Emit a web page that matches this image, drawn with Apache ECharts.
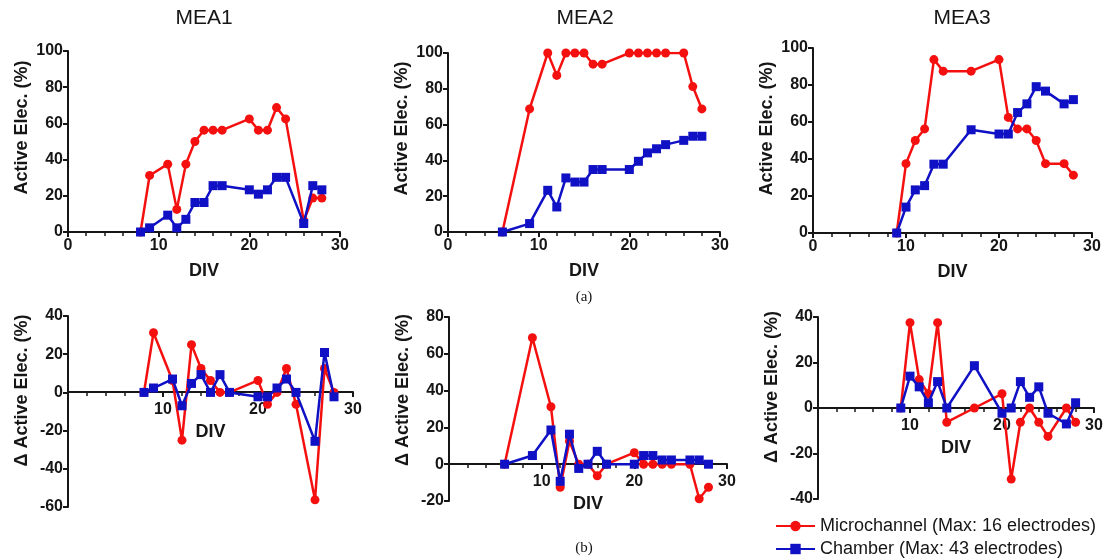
<!DOCTYPE html>
<html>
<head>
<meta charset="utf-8">
<script src="https://cdn.jsdelivr.net/npm/echarts@6/dist/echarts.min.js"></script>
<style>
  html, body { margin: 0; padding: 0; background: #fff; }
  #chart { width: 1113px; height: 559px; }
</style>
</head>
<body>
<div id="chart"></div>
<script>
// DIV (days in vitro) for each MEA
var divMea1 = [8, 9, 11, 12, 13, 14, 15, 16, 17, 20, 21, 22, 23, 24, 26, 27, 28];
var divMea2 = [6, 9, 11, 12, 13, 14, 15, 16, 17, 20, 21, 22, 23, 24, 26, 27, 28];
var divMea3 = [9, 10, 11, 12, 13, 14, 17, 20, 21, 22, 23, 24, 25, 27, 28];

// active electrodes (%)
var microMea1 = [0, 31.25, 37.5, 12.5, 37.5, 50, 56.25, 56.25, 56.25, 62.5, 56.25, 56.25, 68.75, 62.5, 6.25, 18.75, 18.75];
var chamberMea1 = [0, 2.3, 9.3, 2.3, 7.0, 16.3, 16.3, 25.6, 25.6, 23.3, 20.9, 23.3, 30.2, 30.2, 4.7, 25.6, 23.3];
var microMea2 = [0, 68.75, 100, 87.5, 100, 100, 100, 93.75, 93.75, 100, 100, 100, 100, 100, 100, 81.25, 68.75];
var chamberMea2 = [0, 4.7, 23.3, 14.0, 30.2, 27.9, 27.9, 34.9, 34.9, 34.9, 39.5, 44.2, 46.5, 48.8, 51.2, 53.5, 53.5];
var microMea3 = [0, 37.5, 50, 56.25, 93.75, 87.5, 87.5, 93.75, 62.5, 56.25, 56.25, 50, 37.5, 37.5, 31.25];
var chamberMea3 = [0, 14.0, 23.3, 25.6, 37.2, 37.2, 55.8, 53.5, 53.5, 65.1, 69.8, 79.1, 76.7, 69.8, 72.1];

// change of active electrodes (%)
var microDeltaMea1 = [0, 31.25, 6.25, -25, 25, 12.5, 6.25, 0, 0, 6.25, -6.25, 0, 12.5, -6.25, -56.25, 12.5, 0];
var chamberDeltaMea1 = [0, 2.3, 7.0, -7.0, 4.7, 9.3, 0, 9.3, 0, -2.3, -2.3, 2.3, 7.0, 0, -25.6, 20.9, -2.3];
var microDeltaMea2 = [0, 68.75, 31.25, -12.5, 12.5, 0, 0, -6.25, 0, 6.25, 0, 0, 0, 0, 0, -18.75, -12.5];
var chamberDeltaMea2 = [0, 4.7, 18.6, -9.3, 16.3, -2.3, 0, 7.0, 0, 0, 4.7, 4.7, 2.3, 2.3, 2.3, 2.3, 0];
var microDeltaMea3 = [0, 37.5, 12.5, 6.25, 37.5, -6.25, 0, 6.25, -31.25, -6.25, 0, -6.25, -12.5, 0, -6.25];
var chamberDeltaMea3 = [0, 14.0, 9.3, 2.3, 11.6, 0, 18.6, -2.3, 0, 11.6, 4.7, 9.3, -2.3, -7.0, 2.3];

var panelTitles = ["MEA1", "MEA2", "MEA3"];
var microName = "Microchannel (Max: 16 electrodes)";
var chamberName = "Chamber (Max: 43 electrodes)";

var RED = "#f51010";
var BLUE = "#1010c4";
var INK = "#161616";
var FONT = "Liberation Sans";

function pairs(xs, ys) {
    return xs.map(function (x, i) { return [x, ys[i]]; });
}

// grid boxes: top row then bottom row
var gridBoxes = [
    { left: 68, top: 51, width: 272, height: 181 },
    { left: 448, top: 53, width: 272, height: 179 },
    { left: 813, top: 48, width: 279, height: 185 },
    { left: 68, top: 316, width: 285, height: 191 },
    { left: 449, top: 317, width: 278, height: 184 },
    { left: 818, top: 317, width: 276, height: 182 }
];
var yRanges = [[0, 100], [0, 100], [0, 100], [-60, 40], [-20, 80], [-40, 40]];
var titleX = [204, 585, 962];
// y axis titles sit a little above the middle of the axis
var yNameShift = [28, 28, 24, 42, 38, 42];

var panels = [
    { div: divMea1, micro: microMea1, chamber: chamberMea1 },
    { div: divMea2, micro: microMea2, chamber: chamberMea2 },
    { div: divMea3, micro: microMea3, chamber: chamberMea3 },
    { div: divMea1, micro: microDeltaMea1, chamber: chamberDeltaMea1 },
    { div: divMea2, micro: microDeltaMea2, chamber: chamberDeltaMea2 },
    { div: divMea3, micro: microDeltaMea3, chamber: chamberDeltaMea3 }
];

var axisLine = { lineStyle: { color: INK, width: 2 } };
var axisTick = { length: 5, lineStyle: { color: INK, width: 2 } };
var labelStyle = { color: INK, fontWeight: "bold", fontSize: 16, fontFamily: FONT };
var nameStyle = { color: INK, fontWeight: "bold", fontSize: 18, fontFamily: FONT };

var grids = [], xAxes = [], yAxes = [], series = [];

panels.forEach(function (p, i) {
    var isDelta = i >= 3;
    var box = gridBoxes[i];
    var r = yRanges[i];
    // x axis sits on y = 0: lift it up from the grid bottom
    var lift = Math.round(box.height * (0 - r[0]) / (r[1] - r[0]));
    grids.push(box);
    xAxes.push({
        type: "value", gridIndex: i, min: 0, max: 30, interval: 10,
        position: "bottom", offset: -lift,
        name: "DIV", nameLocation: "middle", nameGap: isDelta ? 31 : 30,
        nameTextStyle: nameStyle,
        axisLine: Object.assign({ onZero: false }, axisLine), axisTick: axisTick,
        minorTick: { show: true, splitNumber: 5, length: 4, lineStyle: { color: INK, width: 1.5 } },
        axisLabel: Object.assign({ margin: isDelta ? 10 : 6, showMinLabel: !isDelta }, labelStyle),
        splitLine: { show: false }
    });
    yAxes.push({
        type: "value", gridIndex: i, min: r[0], max: r[1], interval: 20,
        name: (isDelta ? "\u0394 " : "") + "Active Elec. (%)",
        nameLocation: "middle", nameGap: 37,
        nameTextStyle: Object.assign({ padding: [0, 0, 0, yNameShift[i]] }, nameStyle),
        axisLine: Object.assign({ onZero: false }, axisLine), axisTick: axisTick,
        axisLabel: Object.assign({ margin: 5 }, labelStyle),
        splitLine: { show: false }
    });
    series.push({
        name: microName, type: "line", xAxisIndex: i, yAxisIndex: i,
        data: pairs(p.div, p.micro),
        symbol: "circle", symbolSize: 9,
        lineStyle: { color: RED, width: 2.5 }, itemStyle: { color: RED },
        z: 2
    });
    series.push({
        name: chamberName, type: "line", xAxisIndex: i, yAxisIndex: i,
        data: pairs(p.div, p.chamber),
        symbol: "rect", symbolSize: 9,
        lineStyle: { color: BLUE, width: 2.5 }, itemStyle: { color: BLUE },
        z: 3
    });
});

var graphics = panelTitles.map(function (t, i) {
    return {
        type: "text", x: titleX[i], y: 18,
        style: { text: t, fontSize: 21, fontFamily: FONT, fill: INK, align: "center", verticalAlign: "middle" }
    };
});
graphics.push({
    type: "text", x: 584, y: 297,
    style: { text: "(a)", fontSize: 15, fontFamily: "Liberation Serif", fill: INK, align: "center", verticalAlign: "middle" }
});
graphics.push({
    type: "text", x: 584, y: 548,
    style: { text: "(b)", fontSize: 15, fontFamily: "Liberation Serif", fill: INK, align: "center", verticalAlign: "middle" }
});

var legendBase = {
    left: 775, itemWidth: 39, itemHeight: 13, itemGap: 0, padding: 0,
    textStyle: { color: INK, fontSize: 18, fontFamily: FONT }
};

var chart = echarts.init(document.getElementById("chart"), null, { renderer: "canvas" });
chart.setOption({
    animation: false,
    backgroundColor: "#fff",
    grid: grids,
    xAxis: xAxes,
    yAxis: yAxes,
    series: series,
    graphic: graphics,
    legend: [
        Object.assign({ data: [microName], top: 517 }, legendBase),
        Object.assign({ data: [chamberName], top: 540 }, legendBase)
    ]
});
</script>
</body>
</html>
